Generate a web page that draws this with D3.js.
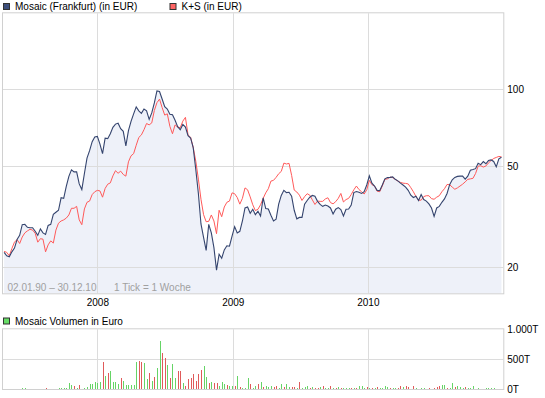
<!DOCTYPE html>
<html>
<head>
<meta charset="utf-8">
<script src="https://cdn.jsdelivr.net/npm/d3@7"></script>
<style>
  body { margin: 0; background: #fff; }
  svg text { font-family: "Liberation Sans", Arial, sans-serif; font-size: 10px; }
</style>
</head>
<body>
<svg></svg>
<script>
// weekly closes, first week 24.04.2007
let startDate = new Date(2007, 3, 24)

let mosaic = [
  22.9,22.2,22.0,23.0,23.8,25.7,26.7,29.4,29.5,28.7,
  28.6,28.6,27.7,26.7,28.3,27.3,26.9,29.2,29.5,32.3,
  32.9,33.5,37.5,37.3,41.6,45.5,48.3,47.4,47.4,42.5,
  40.4,46.7,53.7,57.4,62.3,65.0,65.3,60.9,55.9,64.3,
  64.0,66.9,70.9,73.0,73.6,70.0,68.4,60.0,68.8,74.8,
  80.1,85.3,82.3,80.5,83.7,82.3,76.2,80.8,88.4,98.5,
  98.0,91.6,85.5,83.7,79.8,79.4,75.6,71.3,69.4,72.8,
  71.1,65.7,64.4,59.0,48.4,39.0,29.6,26.2,23.3,29.5,
  27.3,23.9,19.5,22.5,21.7,23.4,24.3,24.2,26.5,28.9,
  27.3,27.7,30.4,34.2,34.5,32.6,33.8,32.2,33.2,31.8,
  37.5,34.0,33.9,32.0,30.4,30.9,35.4,38.3,40.1,39.3,
  39.4,38.0,33.5,31.0,31.4,31.4,35.4,36.6,37.7,38.3,
  38.0,36.3,35.3,34.7,35.1,34.8,34.2,32.4,33.8,34.3,
  33.7,31.8,33.8,33.9,35.1,39.3,39.7,39.4,39.0,39.6,
  42.1,45.7,42.8,41.7,40.1,40.0,42.1,44.5,45.0,45.1,
  45.3,44.3,43.7,42.8,42.1,41.3,40.1,38.4,37.6,38.0,
  36.6,38.6,36.9,36.4,35.5,34.2,31.7,34.2,34.7,36.0,
  37.1,39.0,42.2,44.1,45.1,45.5,45.6,45.6,44.4,45.6,
  48.1,48.4,48.8,51.2,50.6,52.0,51.0,52.5,52.8,52.1,
  49.6,53.3,54.1
]

let kps = [
  23.1,22.9,22.2,23.7,25.1,25.7,24.8,26.3,27.3,27.8,
  28.2,28.0,27.2,25.1,25.9,25.8,23.0,24.5,25.4,24.9,
  28.0,29.8,30.4,30.7,31.2,32.1,34.1,34.1,34.7,30.7,
  29.4,33.9,36.0,36.4,38.6,39.6,40.1,39.9,37.7,40.8,
  42.4,42.9,45.7,47.9,46.8,47.7,46.3,45.6,51.9,54.8,
  55.9,60.3,64.7,66.2,69.4,73.4,72.5,73.8,82.6,88.6,
  91.5,84.8,79.2,80.1,71.5,66.9,72.5,71.0,70.7,75.0,
  77.6,66.3,64.7,59.2,52.2,44.4,37.0,32.2,30.2,30.3,
  32.1,30.4,27.1,33.5,31.6,34.5,36.0,36.4,39.2,38.9,
  37.6,35.4,37.3,41.0,40.3,37.8,35.2,33.4,33.8,35.2,
  37.3,39.2,40.7,43.6,43.9,45.1,46.6,47.6,51.3,50.9,
  51.2,45.9,40.2,39.5,38.4,36.6,37.9,38.9,38.4,36.8,
  35.3,36.4,36.3,36.3,37.1,37.5,35.9,35.5,36.2,37.3,
  39.0,36.1,36.9,37.3,38.6,40.3,41.7,40.4,39.6,38.8,
  40.3,43.9,42.2,41.7,39.8,39.6,41.7,44.3,44.5,45.2,
  45.0,44.3,43.6,43.1,42.8,42.7,42.5,41.1,39.6,37.9,
  36.7,36.7,37.9,38.2,38.2,37.2,37.0,37.7,38.2,39.6,
  40.7,42.3,42.2,41.3,40.5,41.0,41.7,42.4,43.3,44.3,
  44.5,44.7,46.7,49.9,50.1,49.5,50.0,51.4,52.5,53.5,
  54.0,54.5,54.3
]

// Mosaic weekly volume in thousand EUR (T)
let volume = [
  0,0,0,0,0,0,0,11,11,0,
  0,0,0,0,0,0,17,0,0,0,
  0,11,11,11,17,95,61,50,22,61,
  0,22,39,89,89,123,106,123,458,223,
  273,307,112,117,89,179,128,61,61,73,
  73,458,474,452,430,173,268,134,206,357,
  809,608,525,407,190,413,190,307,307,100,
  45,173,179,246,140,257,318,391,206,95,
  112,95,95,56,117,89,73,56,45,56,
  223,28,11,17,179,89,17,56,89,123,
  33,45,33,45,33,56,22,78,33,89,
  28,28,28,22,123,11,28,45,17,39,
  22,22,28,56,22,22,50,17,17,33,
  22,22,22,17,22,17,22,56,56,22,
  28,17,22,22,28,22,17,45,33,17,
  17,22,17,45,33,45,28,0,56,11,
  0,22,17,0,11,0,22,33,45,73,
  73,11,11,106,33,56,39,17,28,22,
  17,50,0,17,0,0,11,11,11,11,
  0,0,0
]

// 1 = week up, -1 = week down
let volumeDir = [
  0,0,0,0,0,0,0,1,1,0,
  0,0,0,0,0,0,-1,0,0,0,
  0,1,1,1,1,1,1,-1,1,-1,
  0,1,1,1,1,1,1,1,-1,1,
  -1,1,1,1,1,-1,1,1,1,1,
  1,1,-1,-1,1,1,-1,1,-1,1,
  1,-1,-1,1,-1,1,1,-1,-1,1,
  -1,-1,-1,-1,-1,-1,-1,1,1,-1,
  1,-1,-1,1,1,1,-1,1,1,-1,
  1,-1,1,1,1,-1,1,1,-1,1,
  -1,1,1,1,-1,-1,1,1,-1,1,
  1,-1,-1,1,-1,1,1,1,-1,1,
  -1,-1,1,-1,1,1,-1,1,-1,1,
  -1,1,1,1,-1,1,-1,1,1,1,
  -1,1,-1,1,-1,1,1,1,1,-1,
  1,1,-1,-1,1,-1,-1,0,-1,1,
  0,1,1,0,-1,0,-1,-1,-1,1,
  1,-1,1,1,-1,1,1,1,-1,1,
  1,1,0,1,0,0,1,1,1,1,
  0,0,0
]

let priceTicks = [20, 50, 100]
let volumeTicks = [0, 500, 1000]
let volumeTickLabels = ['0T', '500T', '1.000T']
let yearTicks = [2008, 2009, 2010]

let width = 545
let height = 398
let left = 3
let right = 503.3
let mainTop = 13.3
let mainBottom = 293.3
let volTop = 329.3
let volBottom = 389

let svg = d3.select('svg')
svg.attr('width', width).attr('height', height)

let dates = mosaic.map((v, i) => d3.timeDay.offset(startDate, 7 * i))

let xscale = d3.scaleTime()
  .domain([new Date(2007, 3, 21), new Date(2011, 0, 2)])
  .range([left, right])

let yscale = d3.scaleLog()
  .domain([15.81, 198.8])
  .range([mainBottom, mainTop])

let vscale = d3.scaleLinear()
  .domain([0, 1000])
  .range([volBottom, volTop])

let gridColor = '#dcdcdc'

// ---- main panel
svg.append('rect')
  .attr('x', left).attr('y', mainTop)
  .attr('width', right - left).attr('height', mainBottom - mainTop)
  .attr('fill', '#fff')

let area = d3.area()
  .x((d, i) => xscale(dates[i]))
  .y0(mainBottom)
  .y1(d => yscale(d))

svg.append('path')
  .datum(mosaic)
  .attr('d', area)
  .attr('fill', '#eef1f9')

let drawGrid = (top, bottom, yvals, ys) => {
  svg.append('g').selectAll('line')
    .data(yearTicks)
    .enter()
    .append('line')
    .attr('x1', d => Math.round(xscale(new Date(d, 0, 1))) + 0.5)
    .attr('x2', d => Math.round(xscale(new Date(d, 0, 1))) + 0.5)
    .attr('y1', top).attr('y2', bottom)
    .attr('stroke', gridColor)
  svg.append('g').selectAll('line')
    .data(yvals)
    .enter()
    .append('line')
    .attr('x1', left).attr('x2', right)
    .attr('y1', d => Math.round(ys(d)) + 0.5)
    .attr('y2', d => Math.round(ys(d)) + 0.5)
    .attr('stroke', gridColor)
}

drawGrid(mainTop, mainBottom, priceTicks, yscale)

let line = d3.line()
  .x((d, i) => xscale(dates[i]))
  .y(d => yscale(d))

svg.append('path')
  .datum(kps)
  .attr('d', line)
  .attr('fill', 'none')
  .attr('stroke', '#ff5a5a')
  .attr('stroke-width', 1)

svg.append('path')
  .datum(mosaic)
  .attr('d', line)
  .attr('fill', 'none')
  .attr('stroke', '#34446e')
  .attr('stroke-width', 1.1)

svg.append('rect')
  .attr('x', left - 0.5).attr('y', mainTop - 0.5)
  .attr('width', right - left + 1).attr('height', mainBottom - mainTop + 1)
  .attr('fill', 'none')
  .attr('stroke', '#d0d0d0')

svg.append('text')
  .attr('x', 7.5).attr('y', 290.5)
  .attr('fill', '#a0a0a0')
  .text('02.01.90 \u2013 30.12.10')
svg.append('text')
  .attr('x', 114).attr('y', 290.5)
  .attr('fill', '#a0a0a0')
  .text('1 Tick = 1 Woche')

// axes
let yAxis = d3.axisRight(yscale)
  .tickValues(priceTicks)
  .tickSize(0)
  .tickPadding(4)
  .tickFormat(d3.format('d'))
svg.append('g')
  .attr('transform', 'translate(' + right + ',0)')
  .call(yAxis)
  .call(g => g.select('.domain').remove())

let xAxis = d3.axisBottom(xscale)
  .tickValues(yearTicks.map(y => new Date(y, 0, 1)))
  .tickSize(0)
  .tickPadding(6)
  .tickFormat(d3.timeFormat('%Y'))
svg.append('g')
  .attr('transform', 'translate(0,' + mainBottom + ')')
  .call(xAxis)
  .call(g => g.select('.domain').remove())

svg.selectAll('.tick text')
  .attr('fill', '#000')
  .style('font-size', '10px')
  .style('font-family', '"Liberation Sans", Arial, sans-serif')

// legends
let legend = (x, y, color, label) => {
  svg.append('rect')
    .attr('x', x + 0.5).attr('y', y + 0.5)
    .attr('width', 6).attr('height', 6)
    .attr('fill', color)
    .attr('stroke', '#333')
  svg.append('text')
    .attr('x', x + 12).attr('y', y + 7)
    .attr('fill', '#000')
    .text(label)
}
legend(3, 3, '#3d4f7c', 'Mosaic (Frankfurt) (in EUR)')
legend(169.5, 3, '#ff6464', 'K+S (in EUR)')
legend(3, 317.5, '#66dd66', 'Mosaic Volumen in Euro')

// ---- volume panel
svg.append('rect')
  .attr('x', left).attr('y', volTop)
  .attr('width', right - left).attr('height', volBottom - volTop)
  .attr('fill', '#fff')

drawGrid(volTop, volBottom, [500], vscale)

svg.append('g').selectAll('rect')
  .data(volume)
  .enter()
  .append('rect')
  .attr('x', (d, i) => Math.round(xscale(dates[i])))
  .attr('y', d => vscale(d))
  .attr('width', 1)
  .attr('height', d => volBottom - vscale(d))
  .attr('fill', (d, i) => volumeDir[i] < 0 ? '#e05a5a' : '#66d466')
  .attr('shape-rendering', 'crispEdges')

svg.append('rect')
  .attr('x', left - 0.5).attr('y', volTop - 0.5)
  .attr('width', right - left + 1).attr('height', volBottom - volTop + 1)
  .attr('fill', 'none')
  .attr('stroke', '#d0d0d0')

let vAxis = d3.axisRight(vscale)
  .tickValues(volumeTicks)
  .tickSize(0)
  .tickPadding(4)
  .tickFormat((d, i) => volumeTickLabels[i])
svg.append('g')
  .attr('transform', 'translate(' + right + ',0)')
  .call(vAxis)
  .call(g => g.select('.domain').remove())
  .selectAll('text')
  .attr('fill', '#000')
  .style('font-size', '10px')
  .style('font-family', '"Liberation Sans", Arial, sans-serif')
</script>
</body>
</html>
